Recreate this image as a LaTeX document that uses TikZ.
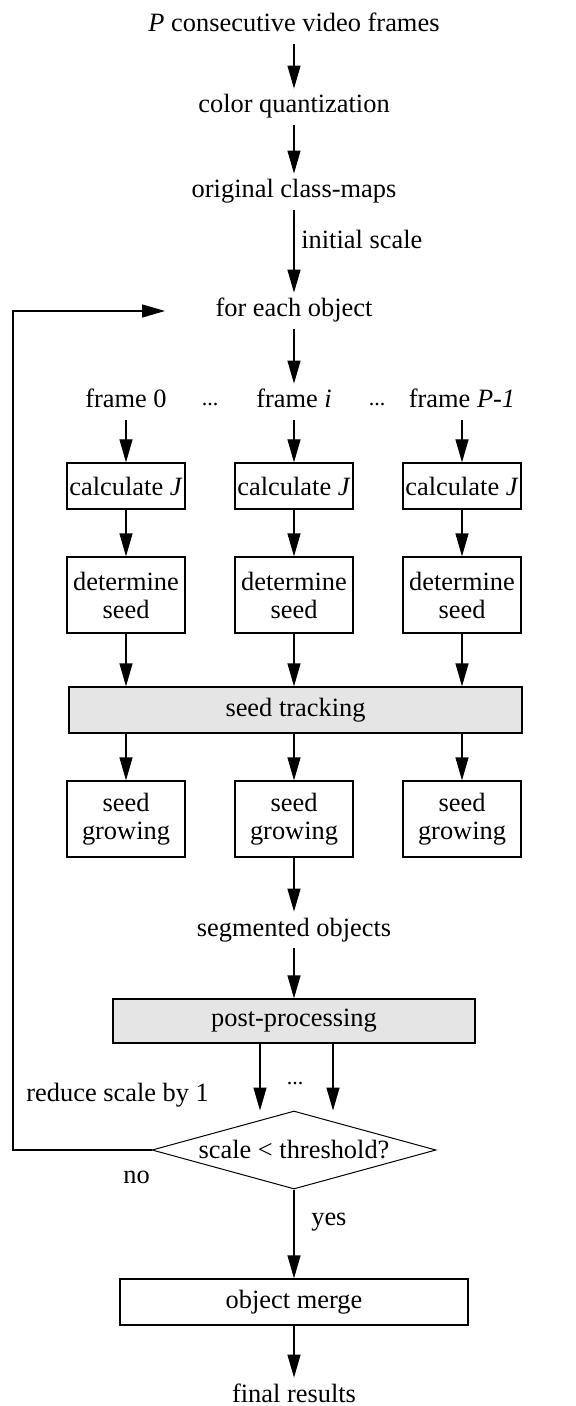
\documentclass[tikz,border=0pt]{standalone}
\usepackage{fontspec}
\setmainfont{Liberation Serif}
\usetikzlibrary{arrows.meta, positioning, shapes.geometric}

\begin{document}
\begin{tikzpicture}[
        x=0.5pt, y=-0.5pt,
        font=\fontsize{13.2pt}{14pt}\selectfont,
        txt/.style={inner sep=3pt, text height=9pt, text depth=3pt},
        dots/.style={inner sep=0pt, anchor=base, font=\fontsize{11pt}{11pt}\selectfont},
        block/.style={rectangle, draw, line width=0.65pt, align=center, inner sep=1pt, minimum width=59pt},
        grayblock/.style={block, fill=gray!20, minimum height=23pt},
        decision/.style={diamond, draw, line width=0.5pt, shape aspect=3.64, minimum width=142pt, minimum height=39pt, inner sep=0pt},
        line/.style={draw, line width=0.65pt, -{Triangle[length=11.5pt, width=6.5pt]}}
    ]
        \useasboundingbox (0,0) rectangle (576,1406);

        % main column, top part
        \node [txt] (src) at (294,26) {\textit{P} consecutive video frames};
        \node [txt] (quant) at (294,107) {color quantization};
        \node [txt] (cmap) at (294,192) {original class-maps};
        \node [txt] (each) at (294,311) {for each object};

        % one column per frame
        \node [txt] (f0) at (126,402) {frame 0};
        \node [txt] (fi) at (294,402) {frame \textit{i}};
        \node [txt] (fp) at (462,402) {frame \textit{P-1}};
        \node [dots] (dl) at (210,406) {...};
        \node [dots] (dr) at (377,406) {...};

        \node [block, minimum height=23pt] (calc0) at (126,486) {calculate \textit{J}};
        \node [block, minimum height=23pt] (calci) at (294,486) {calculate \textit{J}};
        \node [block, minimum height=23pt] (calcp) at (462,486) {calculate \textit{J}};
        \node [block, minimum height=38pt] (det0) at (126,595) {determine\\seed};
        \node [block, minimum height=38pt] (deti) at (294,595) {determine\\seed};
        \node [block, minimum height=38pt] (detp) at (462,595) {determine\\seed};

        \node [grayblock, minimum width=226.5pt] (track) at (295.5,710) {seed tracking};

        \node [block, minimum height=38pt] (grow0) at (126,819) {seed\\growing};
        \node [block, minimum height=38pt] (growi) at (294,819) {seed\\growing};
        \node [block, minimum height=38pt] (growp) at (462,819) {seed\\growing};

        % lower part
        \node [txt] (seg) at (294,930) {segmented objects};
        \node [grayblock, minimum width=181pt, minimum height=22pt] (post) at (294,1021) {post-processing};
        \node [dots] (dp) at (295,1084) {...};
        \node [decision] (dia) at (294,1150) {scale < threshold?};
        \node [anchor=base west, inner sep=0pt] (reduce) at (26,1101) {reduce scale by 1};
        \node [block, minimum width=174pt, minimum height=23pt] (merge) at (294,1302) {object merge};
        \node [txt] (final) at (294,1396) {final results};

        \coordinate (pl) at ([xshift=-17pt]post.south);
        \coordinate (pr) at ([xshift=19.5pt]post.south);
        \coordinate (turn) at (13,311);
        \coordinate (back) at (165,311);

        \path [line] (src) -- (quant);
        \path [line] (quant) -- (cmap);
        \path [line] (cmap) -- node[right, pos=0.35] {initial scale} (each);
        \path [line] (each) -- (fi);
        \foreach \c in {0,i,p} {
            \path [line] (f\c) -- (calc\c);
            \path [line] (calc\c) -- (det\c);
            \path [line] (det\c) -- (det\c |- track.north);
            \path [line] (grow\c |- track.south) -- (grow\c);
        }
        \path [line] (growi) -- (seg);
        \path [line] (seg) -- (post);
        \path [line] (pl) -- (pl |- dia.north);
        \path [line] (pr) -- (pr |- dia.north);
        \path [line] (dia) -- node[right, pos=0.37, xshift=5pt] {yes} (merge);
        \path [line] (merge) -- (final);
        \path [line] (dia.west) node[anchor=base east, inner sep=0pt, xshift=-0.5pt, yshift=-16.5pt] {no} -| (turn) -- (back);
    \end{tikzpicture}
\end{document}
